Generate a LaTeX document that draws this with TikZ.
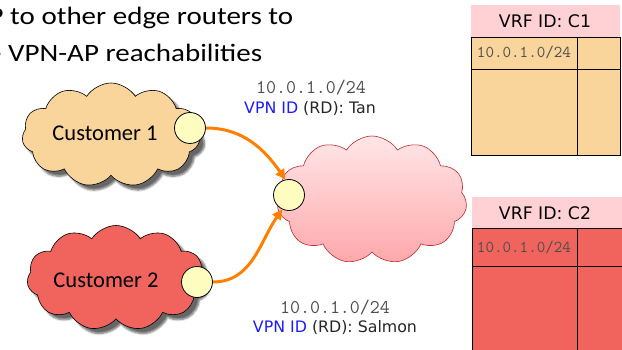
\documentclass[tikz,border=0pt]{standalone}
\usepackage{fontspec}
\setmainfont{Carlito}
\newfontfamily\widefont[FakeStretch=1.16]{Carlito}
\newfontfamily\verdfont{DejaVu Sans}
\usetikzlibrary{shapes.symbols,shadows.blur,arrows.meta}
\definecolor{tanfill}{HTML}{F9D49B}
\definecolor{salmonfill}{HTML}{F1645D}
\definecolor{portfill}{HTML}{FFFCC0}
\definecolor{hdrpink}{HTML}{FFD1D5}
\definecolor{vpnblue}{HTML}{1A1AFF}
\definecolor{arrorange}{HTML}{FF7F00}
\definecolor{monogray}{HTML}{4D4D4D}
\definecolor{cloudedge}{HTML}{C0282D}
\definecolor{pinktop}{HTML}{FFE6E8}
\definecolor{pinkbot}{HTML}{FFA8AB}
\begin{document}
\begin{tikzpicture}[x=1pt,y=-1pt,
  custcloud/.style={cloud, cloud puffs=11, cloud puff arc=115, draw=black, line width=0.6pt,
    blur shadow={shadow xshift=5pt, shadow yshift=-5pt, shadow blur steps=6, shadow opacity=60}},
  cloudtext/.style={font=\fontsize{22.5}{26}\selectfont, text=black},
  port/.style={circle, draw=black, line width=0.8pt, fill=portfill, minimum size=31pt, inner sep=0pt},
  arr/.style={draw=arrorange, line width=3pt, -{Triangle[length=10pt,width=10pt]}},
  monolbl/.style={font=\ttfamily\fontsize{19.4}{22}\selectfont, text=monogray},
  rdlbl/.style={font=\verdfont\fontsize{15.8}{19}\selectfont, text=black!85},
  title/.style={font=\widefont\fontsize{25}{30}\selectfont, text=black, anchor=base west, inner sep=0pt},
  hdr/.style={fill=hdrpink, draw=none},
  hdrtext/.style={font=\verdfont\fontsize{17.3}{21}\selectfont, text=black},
  celltext/.style={font=\ttfamily\fontsize{16.6}{20}\selectfont, text=monogray}
]
\useasboundingbox (0,0) rectangle (622,350);
\clip (0,0) rectangle (622,350);

% title text (clipped on the left)
\node[title] (title1) at (-11.5,25) {P to other edge routers to};
\node[title] (title2) at (-13,62) {e VPN-AP reachabilities};

% clouds
\node[custcloud, fill=tanfill, minimum width=178pt, minimum height=104pt] (cust1) at (111,135) {};
\node[cloudtext] (cust1t) at (105,133) {Customer 1};
\node[custcloud, fill=salmonfill, minimum width=178pt, minimum height=105pt] (cust2) at (116,278) {};
\node[cloudtext] (cust2t) at (106,280) {Customer 2};
\node[cloud, cloud puffs=11, cloud puff arc=115, draw=cloudedge, line width=0.6pt,
      top color=pinktop, bottom color=pinkbot, minimum width=190pt, minimum height=128pt] (pe) at (372,200) {};

% ports
\node[port] (p1) at (190,128) {};
\node[port] (p2) at (197,282) {};
\node[port] (p3) at (289,195) {};

% arrows
\draw[arr] (p1.east) to[out=0, in=125] (p3.103);
\draw[arr] (p2.east) to[out=0, in=235] (p3.245);

% labels
\node[monolbl] (ip1) at (311,88) {10.0.1.0/24};
\node[rdlbl] (rd1) at (310,109) {\textcolor{vpnblue}{VPN ID} (RD): Tan};
\node[monolbl] (ip2) at (335,308) {10.0.1.0/24};
\node[rdlbl] (rd2) at (335,328) {\textcolor{vpnblue}{VPN ID} (RD): Salmon};

% VRF table C1
\fill[hdr] (471,5) rectangle (620,37);
\node[hdrtext] (vrf1) at (545,21) {VRF ID: C1};
\draw[fill=tanfill, line width=0.8pt] (471,37) rectangle (620,155);
\draw[line width=0.8pt] (577,37) -- (577,155);
\draw[line width=0.8pt] (471,69) -- (620,69);
\node[celltext] (row1) at (524,52) {10.0.1.0/24};

% VRF table C2
\fill[hdr] (472,197) rectangle (626,228);
\node[hdrtext] (vrf2) at (545,213) {VRF ID: C2};
\draw[fill=salmonfill, line width=0.8pt] (472,228) rectangle (626,356);
\draw[line width=0.8pt] (577,228) -- (577,356);
\draw[line width=0.8pt] (472,266) -- (626,266);
\node[celltext] (row2) at (524,247) {10.0.1.0/24};
\end{tikzpicture}
\end{document}
